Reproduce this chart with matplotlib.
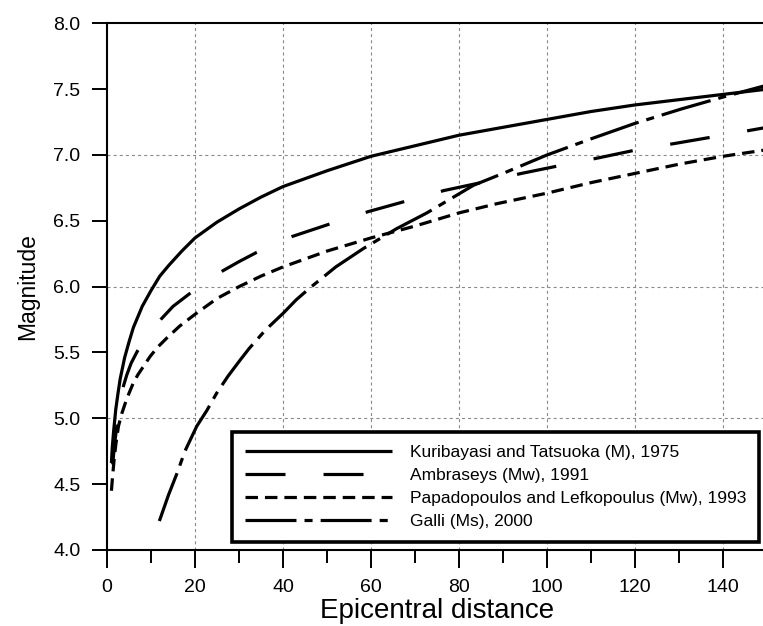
import matplotlib
matplotlib.use("Agg")
import matplotlib.pyplot as plt
from matplotlib.ticker import MultipleLocator

plt.rcParams['font.family'] = ['Liberation Sans', 'DejaVu Sans']
plt.rcParams['lines.scale_dashes'] = False

# Kuribayasi and Tatsuoka (M), 1975
kur_x = [1, 1.2, 1.5, 2, 2.5, 3, 4, 5, 6, 7, 8, 10, 12, 14, 17, 20, 25, 30, 35, 40, 45, 50, 60, 70, 80, 90,
         100, 110, 120, 130, 140, 150]
kur_y = [4.66, 4.78, 4.90, 5.07, 5.19, 5.30, 5.46, 5.58, 5.69, 5.77, 5.85, 5.97, 6.08, 6.16, 6.27, 6.37, 6.49,
         6.59, 6.68, 6.76, 6.82, 6.88, 6.99, 7.07, 7.15, 7.21, 7.27, 7.33, 7.38, 7.42, 7.46, 7.50]

# Ambraseys (Mw), 1991
amb_x = [1.3, 1.7, 2.2, 2.8, 3.6, 4.5, 5.5, 6.9, 8.5, 10, 12.2, 15, 18.9, 22, 26.3, 30, 34, 42, 51, 59.4, 68,
         76.6, 85, 94.2, 103, 112, 120.5, 129.5, 138.2, 150]
amb_y = [4.65, 4.80, 4.93, 5.07, 5.23, 5.33, 5.42, 5.51, 5.59, 5.66, 5.75, 5.85, 5.95, 6.03, 6.12, 6.19, 6.26,
         6.38, 6.48, 6.57, 6.65, 6.73, 6.79, 6.86, 6.92, 6.98, 7.04, 7.09, 7.14, 7.21]

# Papadopoulos and Lefkopoulus (Mw), 1993
pap_x = [1.0, 1.3, 1.6, 2, 2.6, 3.4, 4.1, 5, 6, 7, 8, 9.8, 11.5, 13.6, 16.5, 20, 25, 30, 35, 40, 50, 60, 70,
         80, 88.6, 100, 110, 120, 130, 140, 150]
pap_y = [4.45, 4.57, 4.68, 4.80, 4.94, 5.04, 5.11, 5.19, 5.27, 5.33, 5.38, 5.47, 5.54, 5.61, 5.70, 5.79, 5.91,
         6.00, 6.08, 6.15, 6.27, 6.37, 6.46, 6.56, 6.63, 6.71, 6.79, 6.86, 6.93, 6.99, 7.04]

# Galli (Ms), 2000
gal_x = [11.9, 14, 16, 17.7, 20.4, 22.7, 24.9, 27.5, 30.2, 32.3, 36, 40.1, 43, 46.1, 52, 58.3, 65.8, 72.7,
         83.3, 90, 100, 109.8, 120, 130.6, 140, 150]
gal_y = [4.22, 4.42, 4.59, 4.75, 4.94, 5.06, 5.19, 5.32, 5.44, 5.53, 5.67, 5.80, 5.90, 5.99, 6.15, 6.29, 6.44,
         6.56, 6.77, 6.86, 7.00, 7.12, 7.24, 7.35, 7.44, 7.53]

labels = ["Kuribayasi and Tatsuoka (M), 1975",
          "Ambraseys (Mw), 1991",
          "Papadopoulos and Lefkopoulus (Mw), 1993",
          "Galli (Ms), 2000"]

x_ticks = [0, 20, 40, 60, 80, 100, 120, 140]
y_ticks = [4.0, 4.5, 5.0, 5.5, 6.0, 6.5, 7.0, 7.5, 8.0]

W, H = 763, 626
fig = plt.figure(figsize=(W / 100, H / 100), dpi=100)
ax = fig.add_axes([107 / W, 1 - 550 / H, 660 / W, (550 - 23.3) / H])

lw = 2.3
ax.plot(kur_x, kur_y, color='black', lw=lw, solid_capstyle='butt', solid_joinstyle='round', label=labels[0])
ax.plot(amb_x, amb_y, color='black', lw=lw, dashes=(28.8, 27.4), dash_capstyle='butt', label=labels[1])
ax.plot(pap_x, pap_y, color='black', lw=lw, dashes=(9, 5), dash_capstyle='butt', label=labels[2])
ax.plot(gal_x, gal_y, color='black', lw=lw, dashes=(36.7, 5.8, 5.8, 5.8), dash_capstyle='butt', label=labels[3])

ax.set_xlim(0, 150)
ax.set_ylim(4.0, 8.0)
ax.set_xticks(x_ticks)
ax.set_xticklabels([str(v) for v in x_ticks])
ax.xaxis.set_minor_locator(MultipleLocator(10))
ax.set_yticks(y_ticks)
ax.set_yticklabels([f"{v:.1f}" for v in y_ticks])

ax.tick_params(axis='both', which='major', direction='out', length=11, width=1.4, labelsize=14, pad=8)
ax.tick_params(axis='x', which='major', length=13, pad=8)
ax.tick_params(axis='x', which='minor', direction='out', length=9, width=1.4)

for x in [20, 40, 60, 80, 100, 120, 140]:
    ax.axvline(x, color='#8a8a8a', lw=0.8, dashes=(2.2, 2.2), zorder=0)
for y in [5.0, 6.0, 7.0]:
    ax.axhline(y, color='#8a8a8a', lw=0.8, dashes=(2.2, 2.2), zorder=0)

for s in ['left', 'bottom', 'top']:
    ax.spines[s].set_linewidth(1.5)
ax.spines['right'].set_visible(False)

ax.set_xlabel("Epicentral distance", fontsize=20, labelpad=1)
ax.set_ylabel("Magnitude", fontsize=16.5, labelpad=10)

leg = ax.legend(loc='lower right', bbox_to_anchor=(0.988, 0.015), borderaxespad=0,
                fontsize=12.5, handlelength=8.5, handletextpad=1.0, borderpad=0.75,
                labelspacing=0.45, fancybox=False, framealpha=1, edgecolor='black')
leg.get_frame().set_linewidth(2.6)

fig.savefig("out.png", dpi=100)
